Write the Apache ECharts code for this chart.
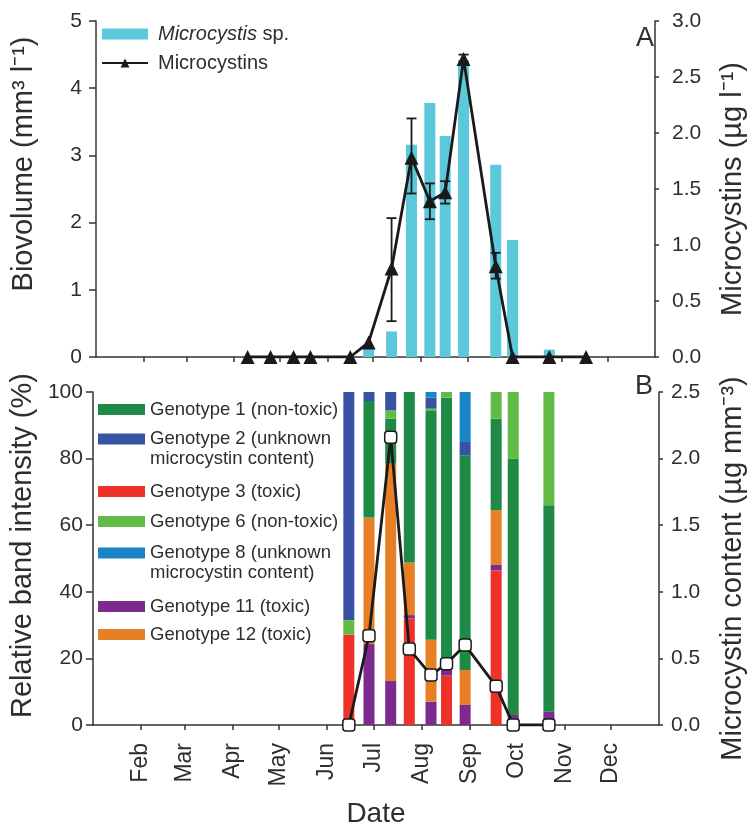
<!DOCTYPE html>
<html>
<head>
<meta charset="utf-8">
<script src="https://cdn.jsdelivr.net/npm/echarts@6/dist/echarts.min.js"></script>
<style>
  html, body { margin: 0; padding: 0; background: #fff; }
  #chart { width: 755px; height: 829px; }
</style>
</head>
<body>
<div id="chart"></div>
<script>
// x axis is day of year
var monthNames = ['Feb', 'Mar', 'Apr', 'May', 'Jun', 'Jul', 'Aug', 'Sep', 'Oct', 'Nov', 'Dec'];
var monthStarts = [31, 59, 90, 120, 151, 181, 212, 243, 273, 304, 334];

// panel A
var bioDates = [178, 193, 206, 218, 228, 240, 261, 272, 296];
var biovolume = [0.12, 0.38, 3.16, 3.78, 3.29, 4.42, 2.86, 1.74, 0.11];
var mcDates = [99, 114, 129, 140, 166, 178, 193, 206, 218, 228, 240, 261, 272, 296, 320];
var microcystins = [0, 0, 0, 0, 0, 0.13, 0.79, 1.78, 1.39, 1.47, 2.66, 0.81, 0, 0, 0];
var errDates = [193, 206, 218, 228, 240, 261];
var errLow = [0.32, 1.46, 1.23, 1.37, 2.62, 0.70];
var errHigh = [1.24, 2.13, 1.55, 1.57, 2.70, 0.93];

// panel B (relative band intensity, %)
var genoDates = [165, 178, 192, 204, 218, 228, 240, 260, 271, 294];
var g3 = [27.2, 0, 0, 32, 0, 14.8, 0, 46.5, 0, 0];
var g11 = [0, 24.3, 13.2, 1, 7, 2.2, 6, 1.7, 3, 4];
var g12 = [0, 38, 65.3, 15.8, 18.6, 0, 10.5, 16.3, 0, 0];
var g1 = [0, 35, 13.5, 51.2, 68.7, 81.3, 64.5, 27.5, 77, 62];
var g6 = [4.3, 0, 2.5, 0, 0.7, 1.7, 0, 8, 20, 34];
var g2 = [68.5, 2.7, 5.5, 0, 3.3, 0, 4, 0, 0, 0];
var g8 = [0, 0, 0, 0, 1.7, 0, 15, 0, 0, 0];
var mcContent = [0, 0.67, 2.16, 0.57, 0.375, 0.46, 0.6, 0.29, 0, 0];

var genoNames = {
  g1: ['Genotype 1 (non-toxic)'],
  g2: ['Genotype 2 (unknown', 'microcystin content)'],
  g3: ['Genotype 3 (toxic)'],
  g6: ['Genotype 6 (non-toxic)'],
  g8: ['Genotype 8 (unknown', 'microcystin content)'],
  g11: ['Genotype 11 (toxic)'],
  g12: ['Genotype 12 (toxic)']
};
var genoColors = {
  g1: '#1f8a46', g2: '#3953a4', g3: '#ee3229', g6: '#62bb47',
  g8: '#1a84c7', g11: '#7d2a8e', g12: '#e67f25'
};
// stacking order, bottom to top
var stackOrder = [['g3', g3], ['g11', g11], ['g12', g12], ['g1', g1], ['g6', g6], ['g2', g2], ['g8', g8]];
// legend order and the y centre of each legend swatch
var legendOrder = ['g1', 'g2', 'g3', 'g6', 'g8', 'g11', 'g12'];
var legendY = [411, 440, 493, 523, 554, 608, 636];

var FONT = '"Liberation Sans", Arial, Helvetica, sans-serif';
var TXT = '#2e2e2e';
var AX = '#333';

function pairs(xs, ys) {
  return xs.map(function (x, i) { return [x, ys[i]]; });
}
function fullName(k) { return genoNames[k].join(' '); }

function xAxisCfg(grid, withLabels) {
  return {
    type: 'value', gridIndex: grid, min: 0, max: 365,
    splitLine: { show: false },
    axisLine: { lineStyle: { color: AX, width: 1.5 } },
    axisTick: { customValues: monthStarts, length: 5, lineStyle: { color: AX, width: 1.5 } },
    axisLabel: withLabels ? {
      customValues: monthStarts, rotate: 90, margin: 18,
      fontSize: 23, fontFamily: FONT, color: TXT,
      formatter: function (v) { return monthNames[monthStarts.indexOf(v)]; }
    } : { show: false },
    name: withLabels ? 'Date' : '',
    nameLocation: 'middle', nameGap: 75,
    nameTextStyle: { fontSize: 28, fontFamily: FONT, color: TXT }
  };
}

function yAxisCfg(grid, pos, max, step, name, gap, dec, tickLen, margin, pad) {
  return {
    type: 'value', gridIndex: grid, position: pos, min: 0, max: max, interval: step,
    splitLine: { show: false },
    axisLine: { show: true, lineStyle: { color: AX, width: 1.5 } },
    axisTick: { show: true, length: tickLen, lineStyle: { color: AX, width: 1.5 } },
    axisLabel: {
      fontSize: 21, fontFamily: FONT, color: TXT, margin: margin,
      formatter: function (v) { return dec ? v.toFixed(1) : String(v); }
    },
    name: name, nameLocation: 'middle', nameGap: gap,
    nameTextStyle: { fontSize: 29, fontFamily: FONT, color: TXT, padding: pad }
  };
}

var chart = echarts.init(document.getElementById('chart'));

var series = [
  {
    name: 'Microcystis sp.', type: 'bar', xAxisIndex: 0, yAxisIndex: 0,
    barWidth: 11, itemStyle: { color: '#5cc8dc' }, z: 2,
    data: pairs(bioDates, biovolume)
  },
  {
    name: 'err', type: 'custom', xAxisIndex: 0, yAxisIndex: 1, z: 4,
    encode: { x: 0, y: [1, 2] },
    data: errDates.map(function (d, i) { return [d, errLow[i], errHigh[i]]; }),
    renderItem: function (params, api) {
      var lo = api.coord([api.value(0), api.value(1)]);
      var hi = api.coord([api.value(0), api.value(2)]);
      var w = 5;
      var st = { stroke: '#1a1a1a', lineWidth: 1.8 };
      return {
        type: 'group',
        children: [
          { type: 'line', shape: { x1: lo[0], y1: lo[1], x2: hi[0], y2: hi[1] }, style: st },
          { type: 'line', shape: { x1: lo[0] - w, y1: lo[1], x2: lo[0] + w, y2: lo[1] }, style: st },
          { type: 'line', shape: { x1: hi[0] - w, y1: hi[1], x2: hi[0] + w, y2: hi[1] }, style: st }
        ]
      };
    }
  },
  {
    name: 'Microcystins', type: 'line', xAxisIndex: 0, yAxisIndex: 1, z: 5,
    symbol: 'triangle', symbolSize: 14, showAllSymbol: true,
    lineStyle: { color: '#1a1a1a', width: 2.8 },
    itemStyle: { color: '#1a1a1a' },
    data: pairs(mcDates, microcystins)
  }
];

// value first so the library stacks the y values (x is a value axis too)
stackOrder.forEach(function (s) {
  series.push({
    name: fullName(s[0]), type: 'bar', stack: 'geno', xAxisIndex: 1, yAxisIndex: 2,
    barWidth: 11, z: 2, itemStyle: { color: genoColors[s[0]] },
    encode: { x: 1, y: 0 },
    data: genoDates.map(function (d, i) { return [s[1][i], d]; })
  });
});

series.push({
  name: 'content', type: 'line', xAxisIndex: 1, yAxisIndex: 3, z: 5,
  symbol: 'roundRect', symbolSize: 12, showAllSymbol: true,
  lineStyle: { color: '#1a1a1a', width: 2.8 },
  itemStyle: { color: '#fff', borderColor: '#1a1a1a', borderWidth: 1.5 },
  data: pairs(genoDates, mcContent)
});

var legends = [{
  orient: 'vertical', left: 101, top: 24, padding: 0, itemGap: 9,
  itemWidth: 46, itemHeight: 11,
  textStyle: {
    fontSize: 20, color: TXT, fontFamily: FONT, padding: [0, 0, 0, 5],
    rich: { i: { fontStyle: 'italic', fontSize: 20, color: TXT, fontFamily: FONT } }
  },
  formatter: function (n) { return n === 'Microcystis sp.' ? '{i|Microcystis} sp.' : n; },
  data: [{ name: 'Microcystis sp.', icon: 'rect' }, { name: 'Microcystins' }]
}];

// second line of a two-line entry hangs below the first, so the swatch sits on line one
legendOrder.forEach(function (k, i) {
  var lines = genoNames[k];
  legends.push({
    orient: 'vertical', left: 98, top: legendY[i] - 11, padding: 0,
    itemWidth: 47, itemHeight: 11, icon: 'rect',
    textStyle: {
      fontSize: 18.5, color: TXT, fontFamily: FONT,
      rich: {
        a: { fontSize: 18.5, lineHeight: 22, color: TXT, fontFamily: FONT },
        b: { fontSize: 18.5, lineHeight: 1, verticalAlign: 'top', color: TXT, fontFamily: FONT }
      }
    },
    formatter: function () {
      return lines.length > 1 ? '{a|' + lines[0] + '}\n{b|' + lines[1] + '}' : '{a|' + lines[0] + '}';
    },
    data: [fullName(k)]
  });
});

chart.setOption({
  animation: false,
  textStyle: { fontFamily: FONT },
  title: [
    { text: 'A', left: 636, top: 25, padding: 0, textStyle: { fontSize: 27, fontWeight: 'normal', color: TXT, fontFamily: FONT } },
    { text: 'B', left: 635, top: 373, padding: 0, textStyle: { fontSize: 27, fontWeight: 'normal', color: TXT, fontFamily: FONT } }
  ],
  grid: [
    { left: 96, right: 92, top: 21, height: 336 },
    { left: 91, right: 92, top: 392, height: 335 }
  ],
  legend: legends,
  xAxis: [xAxisCfg(0, false), xAxisCfg(1, true)],
  yAxis: [
    yAxisCfg(0, 'left', 5, 1, 'Biovolume (mm³ l⁻¹)', 58, false, 7, 14, [0, 0, 0, 50]),
    yAxisCfg(0, 'right', 3, 0.5, 'Microcystins (µg l⁻¹)', 63, true, 4, 17, 0),
    yAxisCfg(1, 'left', 100, 20, 'Relative band intensity (%)', 52, false, 7, 10, [0, 0, 0, 26]),
    yAxisCfg(1, 'right', 2.5, 0.5, 'Microcystin content (µg mm⁻³)', 59, true, 4, 12, [0, 20, 0, 0])
  ],
  series: series
});
</script>
</body>
</html>
